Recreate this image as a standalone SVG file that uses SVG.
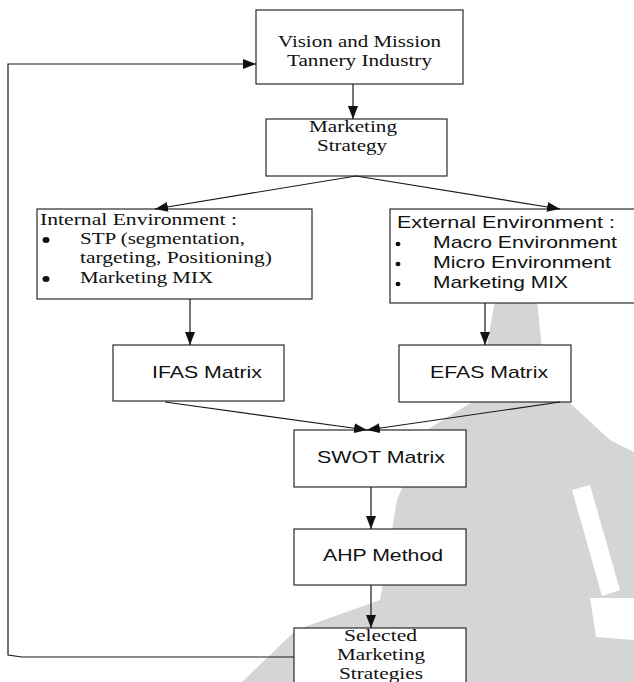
<svg xmlns="http://www.w3.org/2000/svg" width="634" height="682" viewBox="0 0 634 682">
<style>
.box{fill:#fff;stroke:#2a2a2a;stroke-width:1.2}
.ln{fill:none;stroke:#1a1a1a;stroke-width:1.2}
.serif{font-family:"Liberation Serif","Times New Roman",serif;font-size:17px;fill:#111}
.sans{font-family:"Liberation Sans",Arial,sans-serif;font-size:17px;fill:#111}
.wm{fill:#d5d5d5}
</style>
<defs>
<marker id="arr" markerUnits="userSpaceOnUse" markerWidth="13" markerHeight="10" refX="13" refY="5" orient="auto">
<path d="M0,0 L13,5 L0,10 z" fill="#111"/>
</marker>
</defs>
<rect width="634" height="682" fill="#fff"/>
<g id="watermark">
<polygon class="wm" points="495,300 537,300 545,380 610,440 634,452 634,682 242,682 296,630 380,600 397,500 427,430 472,402 488,340"/>
<polygon fill="#fff" points="572,490 590,485 620,590 602,596"/>
<polygon fill="#fff" points="590,598 634,598 634,640 596,637"/>
</g>
<g id="vision"><rect class="box" x="256" y="10" width="207" height="74"/>
<text class="serif" x="278" y="47" textLength="163" lengthAdjust="spacingAndGlyphs">Vision and Mission</text>
<text class="serif" x="287" y="66" textLength="145" lengthAdjust="spacingAndGlyphs">Tannery Industry</text></g>
<g id="strategy"><rect class="box" x="266" y="119" width="181" height="57"/>
<text class="serif" x="309" y="132" textLength="88" lengthAdjust="spacingAndGlyphs">Marketing</text>
<text class="serif" x="317" y="151" textLength="70" lengthAdjust="spacingAndGlyphs">Strategy</text></g>
<g id="internal"><rect class="box" x="37" y="209" width="275" height="90"/>
<text class="serif" x="40" y="225" textLength="197" lengthAdjust="spacingAndGlyphs">Internal Environment :</text>
<ellipse cx="46" cy="240" rx="3.5" ry="3" fill="#111"/>
<text class="serif" x="80" y="244" textLength="165" lengthAdjust="spacingAndGlyphs">STP (segmentation,</text>
<text class="serif" x="80" y="263" textLength="192" lengthAdjust="spacingAndGlyphs">targeting, Positioning)</text>
<ellipse cx="46" cy="279" rx="3.5" ry="3" fill="#111"/>
<text class="serif" x="80" y="283" textLength="133" lengthAdjust="spacingAndGlyphs">Marketing MIX</text></g>
<g id="external"><rect class="box" x="390" y="209" width="250" height="94"/>
<text class="sans" x="397" y="228" textLength="218" lengthAdjust="spacingAndGlyphs">External Environment :</text>
<ellipse cx="398" cy="244" rx="2.5" ry="2.2" fill="#111"/>
<text class="sans" x="433" y="248" textLength="184" lengthAdjust="spacingAndGlyphs">Macro Environment</text>
<ellipse cx="398" cy="264" rx="2.5" ry="2.2" fill="#111"/>
<text class="sans" x="433" y="268" textLength="178" lengthAdjust="spacingAndGlyphs">Micro Environment</text>
<ellipse cx="398" cy="284" rx="2.5" ry="2.2" fill="#111"/>
<text class="sans" x="433" y="288" textLength="135" lengthAdjust="spacingAndGlyphs">Marketing MIX</text></g>
<g id="ifas"><rect class="box" x="113" y="345" width="171" height="56"/>
<text class="sans" x="152" y="378" textLength="110" lengthAdjust="spacingAndGlyphs">IFAS Matrix</text></g>
<g id="efas"><rect class="box" x="399" y="345" width="172" height="57"/>
<text class="sans" x="430" y="378" textLength="118" lengthAdjust="spacingAndGlyphs">EFAS Matrix</text></g>
<g id="swot"><rect class="box" x="294" y="430" width="172" height="57"/>
<text class="sans" x="317" y="463" textLength="128" lengthAdjust="spacingAndGlyphs">SWOT Matrix</text></g>
<g id="ahp"><rect class="box" x="294" y="529" width="172" height="56"/>
<text class="sans" x="323" y="561" textLength="120" lengthAdjust="spacingAndGlyphs">AHP Method</text></g>
<g id="selected"><rect class="box" x="294" y="628" width="172" height="64"/>
<text class="serif" x="344" y="641" textLength="73" lengthAdjust="spacingAndGlyphs">Selected</text>
<text class="serif" x="337" y="660" textLength="88" lengthAdjust="spacingAndGlyphs">Marketing</text>
<text class="serif" x="339" y="679" textLength="84" lengthAdjust="spacingAndGlyphs">Strategies</text></g>
<g id="connectors">
<line class="ln" x1="353" y1="84" x2="353" y2="119" marker-end="url(#arr)"/>
<line class="ln" x1="356" y1="176" x2="155" y2="209" marker-end="url(#arr)"/>
<line class="ln" x1="356" y1="176" x2="560" y2="209" marker-end="url(#arr)"/>
<line class="ln" x1="190" y1="299" x2="190" y2="345" marker-end="url(#arr)"/>
<line class="ln" x1="485" y1="303" x2="485" y2="345" marker-end="url(#arr)"/>
<line class="ln" x1="165" y1="402" x2="367" y2="430" marker-end="url(#arr)"/>
<line class="ln" x1="560" y1="402" x2="367" y2="430" marker-end="url(#arr)"/>
<line class="ln" x1="371" y1="487" x2="371" y2="529" marker-end="url(#arr)"/>
<line class="ln" x1="371" y1="585" x2="371" y2="628" marker-end="url(#arr)"/>
<path class="ln" d="M294,657 L22,657 L8,655 L8,64 L256,64" marker-end="url(#arr)"/>
</g>
</svg>
